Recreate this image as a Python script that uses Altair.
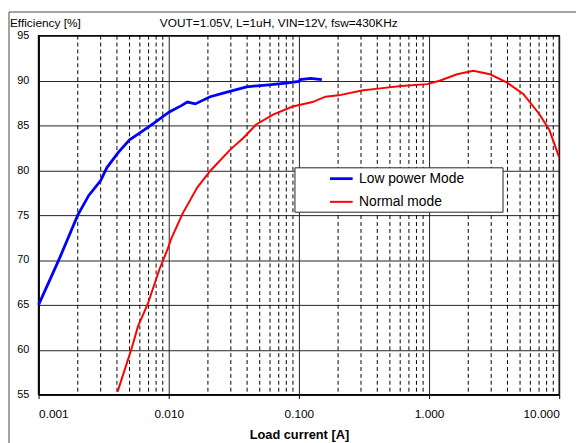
import altair as alt
import pandas as pd

# ---- data ----
low_current = [0.001, 0.00144, 0.002, 0.00243, 0.003, 0.00335, 0.0041, 0.005, 0.0062, 0.0076,
               0.0101, 0.0125, 0.0139, 0.016, 0.0208, 0.028, 0.0397, 0.0561, 0.0795, 0.1,
               0.102, 0.123, 0.15]
low_eff = [65.0, 70.1, 75.0, 77.2, 78.85, 80.3, 82.0, 83.4, 84.3, 85.2,
           86.5, 87.2, 87.6, 87.4, 88.2, 88.7, 89.3, 89.5, 89.7, 89.9,
           90.1, 90.25, 90.1]

norm_current = [0.00404, 0.0052, 0.0058, 0.0069, 0.0085, 0.0098, 0.0104, 0.0128, 0.0166, 0.0209,
                0.0297, 0.0374, 0.047, 0.0633, 0.0895, 0.127, 0.16, 0.202, 0.304, 0.405,
                0.609, 0.97, 1.22, 1.64, 2.19, 2.94, 3.94, 5.29, 7.0, 8.4, 9.95]
norm_eff = [55.3, 60.2, 62.6, 65.1, 69.0, 71.2, 72.3, 75.2, 78.1, 79.95,
            82.3, 83.6, 85.1, 86.2, 87.1, 87.6, 88.2, 88.35, 88.9, 89.1,
            89.4, 89.6, 90.0, 90.7, 91.1, 90.7, 89.8, 88.5, 86.3, 84.5, 81.5]

series_names = ["Low power Mode", "Normal mode"]
series_colors = ["#0000ff", "#ff0000"]
x_ticks = [0.001, 0.01, 0.1, 1, 10]
minor_ticks = [m * d for d in [0.001, 0.01, 0.1, 1] for m in range(2, 10)]
y_ticks = [55, 60, 65, 70, 75, 80, 85, 90, 95]

title_left = "Efficiency [%]"
title_right = "VOUT=1.05V, L=1uH, VIN=12V, fsw=430KHz"
x_title = "Load current [A]"

FONT = "Liberation Sans"

df = pd.concat([
    pd.DataFrame({"current": low_current, "eff": low_eff, "series": series_names[0]}),
    pd.DataFrame({"current": norm_current, "eff": norm_eff, "series": series_names[1]}),
])

W, H = 528, 364
xscale = alt.Scale(type="log", domain=[0.001, 10], nice=False)
yscale = alt.Scale(domain=[55, 95], nice=False, zero=False)

x_axis = alt.Axis(values=x_ticks, format=".3f", title=x_title, grid=True,
                  gridColor="#222", gridWidth=1, tickSize=4, tickColor="black",
                  labelPadding=10, titlePadding=10, titleFontSize=13,
                  titleFontWeight="bold", labelFontSize=12)

one = pd.DataFrame({"a": [0]})

frame = alt.Chart(one).mark_rect(fill=None, stroke="#444", strokeWidth=1).encode(
    x=alt.value(-30), x2=alt.value(620), y=alt.value(-24), y2=alt.value(500)
)

minor = alt.Chart(pd.DataFrame({"current": minor_ticks})).mark_rule(
    color="black", strokeDash=[4, 3], strokeWidth=1
).encode(x=alt.X("current:Q", scale=xscale, axis=x_axis))

legend_box = alt.Chart(one).mark_rect(fill="white", stroke="#222", strokeWidth=1).encode(
    x=alt.value(260), x2=alt.value(471), y=alt.value(134), y2=alt.value(179)
)

lines = alt.Chart(df).mark_line().encode(
    x=alt.X("current:Q", scale=xscale, axis=x_axis),
    y=alt.Y("eff:Q", scale=yscale,
            axis=alt.Axis(values=y_ticks, title=None, grid=True, gridColor="#222",
                          gridWidth=1, tickSize=0, labelPadding=10, labelFontSize=11)),
    color=alt.Color("series:N", scale=alt.Scale(domain=series_names, range=series_colors),
                    legend=alt.Legend(orient="none", legendX=294, legendY=132, title=None,
                                      symbolType="stroke", symbolSize=529,
                                      symbolStrokeWidth=3, labelFontSize=14,
                                      labelFont=FONT, labelOffset=5, rowPadding=4,
                                      padding=0, labelColor="black")),
    strokeWidth=alt.StrokeWidth("series:N",
                                scale=alt.Scale(domain=series_names, range=[2.8, 2]),
                                legend=None),
)

t_left = alt.Chart(one).mark_text(align="left", baseline="alphabetic", fontSize=12,
                                  font=FONT, color="black").encode(
    x=alt.value(-29), y=alt.value(-9), text=alt.value(title_left))
t_right = alt.Chart(one).mark_text(align="left", baseline="alphabetic", fontSize=12,
                                   font=FONT, color="black").encode(
    x=alt.value(123), y=alt.value(-9), text=alt.value(title_right))

chart = alt.layer(frame, minor, legend_box, lines, t_left, t_right).properties(
    width=W, height=H, autosize="none",
    padding={"left": 31, "top": 25, "right": 17, "bottom": 46},
    background="white",
).configure_view(stroke="black", strokeWidth=1.5).configure_axis(
    labelFont=FONT, titleFont=FONT, labelColor="black", titleColor="black",
    domainColor="black", domainWidth=1.5
)

chart.save("out.html", embed_options={"renderer": "svg", "actions": False})
